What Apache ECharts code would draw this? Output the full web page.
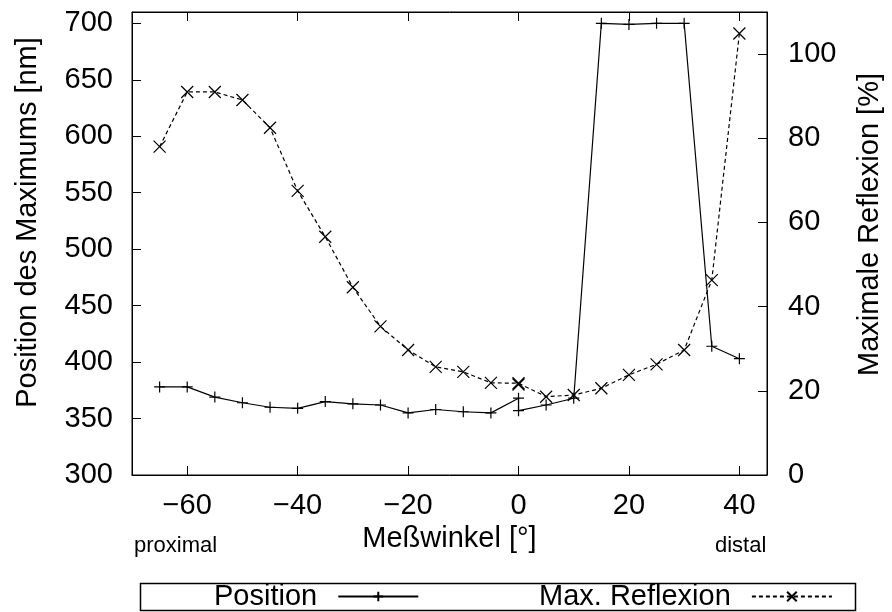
<!DOCTYPE html>
<html>
<head>
<meta charset="utf-8">
<script src="https://cdn.jsdelivr.net/npm/echarts@6/dist/echarts.min.js"></script>
<style>
html, body { margin: 0; padding: 0; background: #fff; }
#chart { width: 892px; height: 612px; }
</style>
</head>
<body>
<div id="chart"></div>
<script>
// Messwinkel (x), at 0 deg two measurements
var winkel = [-65, -60, -55, -50, -45, -40, -35, -30, -25, -20, -15, -10, -5, 0, 0, 5, 10, 15, 20, 25, 30, 35, 40];
var position = [378, 378, 369, 364, 360, 359, 365, 363, 362, 355, 358, 356, 355, 368, 357, 362, 368, 700, 699, 700, 700, 414, 403];
var reflexion = [78.0, 91.0, 91.0, 89.1, 82.5, 67.5, 56.6, 44.6, 35.3, 29.7, 25.7, 24.5, 21.9, 21.8, 21.5, 18.6, 19.0, 20.6, 23.8, 26.3, 29.7, 46.3, 104.9];
var xTicks = [-60, -40, -20, 0, 20, 40];
var yTicks = [300, 350, 400, 450, 500, 550, 600, 650, 700];
var y2Ticks = [0, 20, 40, 60, 80, 100];

var font = 'Liberation Sans';
var plus = 'path://M0,5L10,5M5,0L5,10';
var cross = 'path://M0,0L10,10M0,10L10,0';

function pairs(ys){
	var out = [];
	winkel.forEach(function(x, i){
		out.push([x, ys[i]]);
	});
	return out;
}

// one legend per entry, so each can sit where gnuplot put it
function legendAt(name, left){
	return {
		data: [name],
		left: left, top: 582,
		padding: 0,
		itemWidth: 80, itemHeight: 12,
		align: 'right',
		formatter: function(n){ return n + '  '; },
		textStyle: { fontFamily: font, fontSize: 29, color: '#000' }
	};
}

var chart = echarts.init(document.getElementById('chart'));

var axisLine = { show: true, onZero: false, lineStyle: { color: '#000' } };

var option = {
	animation: false,
	backgroundColor: '#fff',
	textStyle: { fontFamily: font, color: '#000' },
	grid: {
		left: 132, right: 125, top: 12, bottom: 137,
		show: true, borderColor: '#000', borderWidth: 1
	},
	legend: [legendAt('Position', 214), legendAt('Max. Reflexion', 539)],
	xAxis: [{
		type: 'value', min: -70, max: 45, position: 'bottom',
		name: 'Meßwinkel [°]', nameLocation: 'middle', nameGap: 49,
		nameTextStyle: { fontFamily: font, fontSize: 29, color: '#000' },
		axisLine: axisLine,
		axisTick: { inside: true, length: 9, customValues: xTicks, lineStyle: { color: '#000' } },
		axisLabel: {
			customValues: xTicks, margin: 16, fontFamily: font, fontSize: 29, color: '#000',
			formatter: function(v){ return v < 0 ? '\u2212' + (-v) : String(v); }
		},
		splitLine: { show: false }
	}, {
		type: 'value', min: -70, max: 45, position: 'top',
		axisLine: axisLine,
		axisTick: { inside: true, length: 9, customValues: xTicks, lineStyle: { color: '#000' } },
		axisLabel: { show: false },
		splitLine: { show: false }
	}],
	yAxis: [{
		type: 'value', min: 300, max: 710, position: 'left',
		name: 'Position des Maximums [nm]', nameLocation: 'middle', nameGap: 90,
		nameTextStyle: { fontFamily: font, fontSize: 29, color: '#000', padding: [0, 0, 0, 42] },
		axisLine: axisLine,
		axisTick: { inside: true, length: 9, customValues: yTicks, lineStyle: { color: '#000' } },
		axisLabel: { customValues: yTicks, margin: 19, fontFamily: font, fontSize: 29, color: '#000' },
		splitLine: { show: false }
	}, {
		type: 'value', min: 0, max: 110, position: 'right',
		name: 'Maximale Reflexion [%]', nameLocation: 'middle', nameGap: 88,
		nameTextStyle: { fontFamily: font, fontSize: 29, color: '#000', padding: [0, 0, 0, 38] },
		axisLine: axisLine,
		axisTick: { inside: true, length: 9, customValues: y2Ticks, lineStyle: { color: '#000' } },
		axisLabel: { customValues: y2Ticks, margin: 21, fontFamily: font, fontSize: 29, color: '#000' },
		splitLine: { show: false }
	}],
	series: [{
		name: 'Position',
		type: 'line',
		xAxisIndex: 0, yAxisIndex: 0,
		data: pairs(position),
		symbol: plus, symbolSize: 11,
		itemStyle: { color: 'none', borderColor: '#000', borderWidth: 1.2 },
		lineStyle: { color: '#000', width: 1.2, type: 'solid' }
	}, {
		name: 'Max. Reflexion',
		type: 'line',
		xAxisIndex: 0, yAxisIndex: 1,
		data: pairs(reflexion),
		symbol: cross, symbolSize: 12,
		itemStyle: { color: 'none', borderColor: '#000', borderWidth: 1.2 },
		lineStyle: { color: '#000', width: 1.2, type: [4, 3] }
	}],
	graphic: [{
		type: 'text', left: 134, top: 535,
		style: { text: 'proximal', font: '22px "Liberation Sans"', fill: '#000' }
	}, {
		type: 'text', left: 715, top: 535,
		style: { text: 'distal', font: '22px "Liberation Sans"', fill: '#000' }
	}, {
		type: 'rect', left: 138, top: 581, silent: true,
		shape: { width: 715, height: 27 },
		style: { fill: 'none', stroke: '#000', lineWidth: 1.5 }
	}]
};

chart.setOption(option);
</script>
</body>
</html>
